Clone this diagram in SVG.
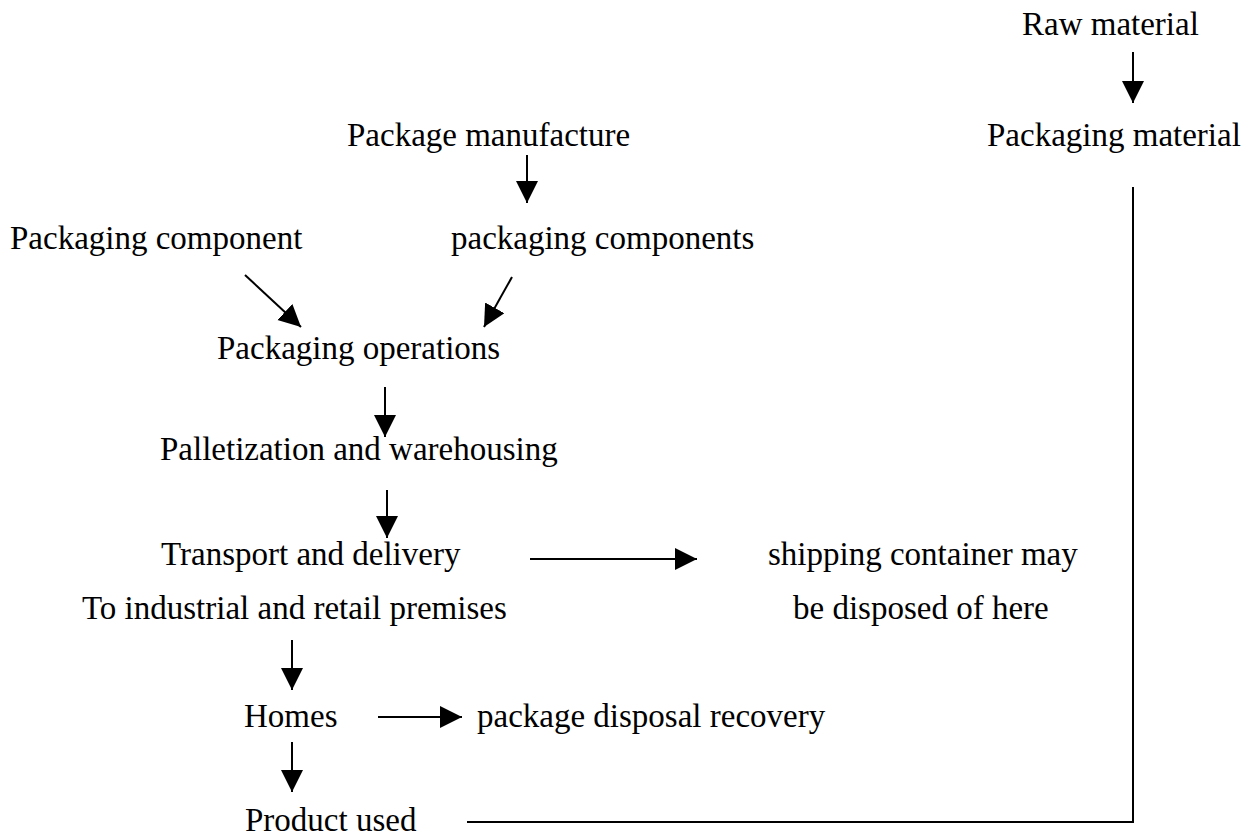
<svg xmlns="http://www.w3.org/2000/svg" width="1253" height="838" viewBox="0 0 1253 838">
<style>
text{font-family:"Liberation Serif","Times New Roman",serif;font-size:33px;fill:#000}
.c{stroke:#000;stroke-width:2;fill:none}
</style>
<defs>
<marker id="ah" markerUnits="userSpaceOnUse" markerWidth="24" markerHeight="24" refX="22" refY="11" orient="auto">
<path d="M0,0 L22,11 L0,22 Z" fill="#000"/>
</marker>
</defs>
<rect width="1253" height="838" fill="#fff"/>
<g id="raw"><text x="1022" y="35">Raw material</text></g>
<g id="pmat"><text x="987" y="146">Packaging material</text></g>
<g id="pman"><text x="347" y="146">Package manufacture</text></g>
<g id="pcomp1"><text x="10" y="249">Packaging component</text></g>
<g id="pcomp2"><text x="451" y="249">packaging components</text></g>
<g id="pops"><text x="217" y="359">Packaging operations</text></g>
<g id="pallet"><text x="160" y="460">Palletization and warehousing</text></g>
<g id="transport"><text x="161" y="565">Transport and delivery</text><text x="82" y="619">To industrial and retail premises</text></g>
<g id="ship"><text x="768" y="565">shipping container may</text><text x="793" y="619">be disposed of here</text></g>
<g id="homes"><text x="244" y="727">Homes</text></g>
<g id="disp"><text x="477" y="727">package disposal recovery</text></g>
<g id="used"><text x="245" y="831">Product used</text></g>
<g id="connectors">
<line class="c" x1="1133" y1="52" x2="1133" y2="103" marker-end="url(#ah)"/>
<line class="c" x1="527" y1="155" x2="527" y2="203" marker-end="url(#ah)"/>
<line class="c" x1="245" y1="275" x2="301" y2="327" marker-end="url(#ah)"/>
<line class="c" x1="512" y1="277" x2="484" y2="327" marker-end="url(#ah)"/>
<line class="c" x1="385" y1="387" x2="385" y2="437" marker-end="url(#ah)"/>
<line class="c" x1="387" y1="490" x2="387" y2="538" marker-end="url(#ah)"/>
<line class="c" x1="530" y1="559" x2="697" y2="559" marker-end="url(#ah)"/>
<line class="c" x1="292" y1="640" x2="292" y2="690" marker-end="url(#ah)"/>
<line class="c" x1="378" y1="717" x2="462" y2="717" marker-end="url(#ah)"/>
<line class="c" x1="292" y1="742" x2="292" y2="792" marker-end="url(#ah)"/>
<polyline class="c" points="467,822 1133,822 1133,187"/>
</g>
</svg>
